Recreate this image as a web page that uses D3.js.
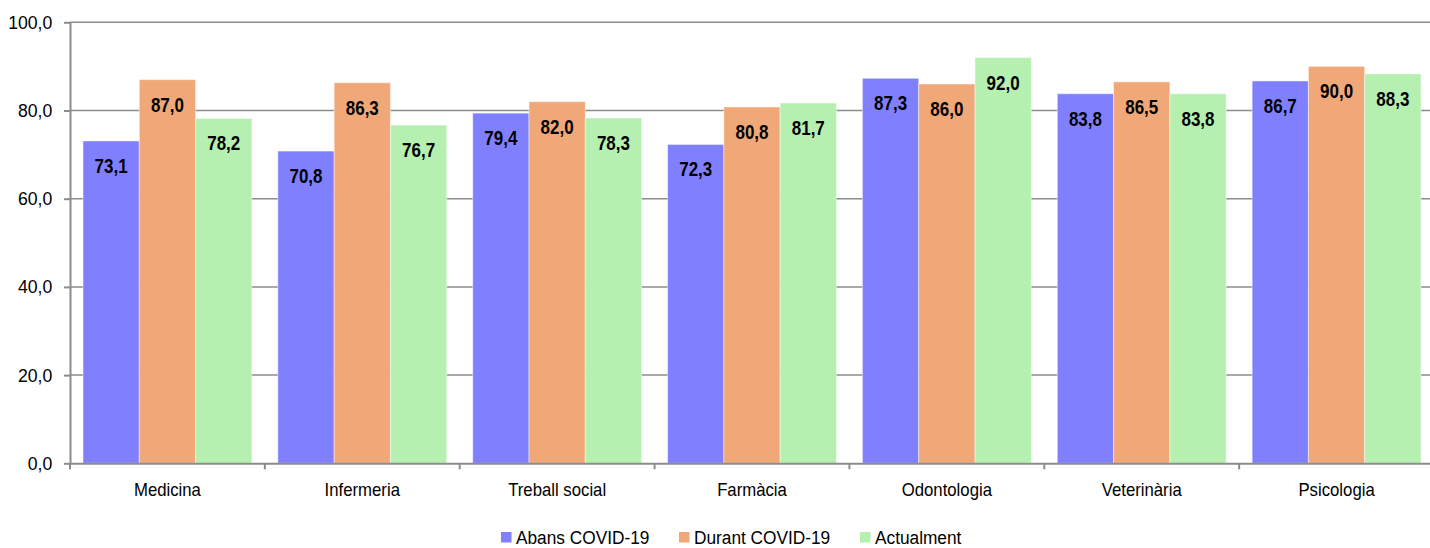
<!DOCTYPE html>
<meta charset="utf-8">
<style>
  body { margin: 0; background: #fff; }
  svg text { font-family: "Liberation Sans Narrow", "Arial Narrow", "Liberation Sans", sans-serif; fill: #000; }
  .grid line { stroke: #8c8c8c; stroke-width: 1.5px; }
  .axis path, .axis line { stroke: #8c8c8c; stroke-width: 2px; }
  .val { font-weight: bold; font-size: 20px; }
</style>
<body>
<svg id="chart" width="1430" height="548"></svg>
<script src="https://d3js.org/d3.v7.min.js"></script>
<script>
  // data
  var categories = ["Medicina", "Infermeria", "Treball social", "Farmàcia", "Odontologia", "Veterinària", "Psicologia"];
  var seriesNames = ["Abans COVID-19", "Durant COVID-19", "Actualment"];
  var abans   = [73.1, 70.8, 79.4, 72.3, 87.3, 83.8, 86.7];
  var durant  = [87.0, 86.3, 82.0, 80.8, 86.0, 86.5, 90.0];
  var actual  = [78.2, 76.7, 78.3, 81.7, 92.0, 83.8, 88.3];
  var yTicks  = [0, 20, 40, 60, 80, 100];

  var colors = ["#8080ff", "#f0a878", "#b6f0b0"];
  var series = [abans, durant, actual];

  var margin = {left: 70},
      plotRight = 1434;

  var svg = d3.select('#chart');

  var x0 = d3.scaleBand()
      .domain(categories)
      .range([margin.left, plotRight]);

  var pad = 13;
  var x1 = d3.scaleBand()
      .domain(d3.range(series.length))
      .range([pad, x0.bandwidth() - pad]);

  var y = d3.scaleLinear()
      .domain([0, 100])
      .range([463.3, 22.3]);

  var fmt = function(v){ return d3.format('.1f')(v).replace('.', ','); };

  // gridlines
  svg.append('g')
    .attr('class', 'grid')
    .selectAll('line')
    .data(yTicks.filter(function(d){ return d > 0; }))
    .enter().append('line')
      .attr('x1', margin.left)
      .attr('x2', 1430)
      .attr('y1', function(d){ return y(d); })
      .attr('y2', function(d){ return y(d); });

  // bars
  var groups = svg.append('g').selectAll('g')
    .data(categories)
    .enter().append('g')
      .attr('transform', function(d){ return 'translate(' + x0(d) + ',0)'; });

  function cells(d, i){ return series.map(function(s, k){ return {k: k, v: s[i]}; }); }

  groups.selectAll('rect')
    .data(cells)
    .enter().append('rect')
      .attr('x', function(d){ return x1(d.k); })
      .attr('width', x1.bandwidth())
      .attr('y', function(d){ return y(d.v); })
      .attr('height', function(d){ return y(0) - y(d.v); })
      .attr('fill', function(d){ return colors[d.k]; })
      .attr('stroke', 'rgba(255,255,255,0.45)')
      .attr('stroke-width', 1);

  // value labels, squeezed a bit to look like a narrow font
  groups.selectAll('text')
    .data(cells)
    .enter().append('text')
      .attr('class', 'val')
      .attr('text-anchor', 'middle')
      .attr('transform', function(d){
        return 'translate(' + (x1(d.k) + x1.bandwidth() / 2) + ',' + (y(d.v) + 32) + ') scale(0.85,1)';
      })
      .text(function(d){ return fmt(d.v); });

  // y axis
  var yAxis = svg.append('g')
    .attr('class', 'axis')
    .attr('transform', 'translate(' + margin.left + ',0)')
    .call(d3.axisLeft(y).tickValues(yTicks).tickSize(6).tickSizeOuter(0).tickPadding(13).tickFormat(fmt));
  yAxis.selectAll('text')
    .style('font-size', '19px')
    .attr('transform', 'scale(0.93,1)');

  // x axis
  var xAxis = svg.append('g')
    .attr('class', 'axis')
    .attr('transform', 'translate(0,' + y(0) + ')')
    .call(d3.axisBottom(x0).tickSize(0).tickPadding(20));
  xAxis.selectAll('text')
    .style('font-size', '18px')
    .attr('transform', 'scale(0.93,1)');
  xAxis.selectAll('.sep')
    .data(d3.range(categories.length + 1))
    .enter().append('line')
      .attr('class', 'sep')
      .attr('x1', function(i){ return margin.left + i * x0.step(); })
      .attr('x2', function(i){ return margin.left + i * x0.step(); })
      .attr('y1', 0)
      .attr('y2', 6);

  // legend
  var legendX = [501, 679, 860];
  var legend = svg.append('g').selectAll('g')
    .data(seriesNames)
    .enter().append('g')
      .attr('transform', function(d, i){ return 'translate(' + legendX[i] + ',532)'; });
  legend.append('rect')
    .attr('width', 10.5)
    .attr('height', 10.5)
    .attr('fill', function(d, i){ return colors[i]; });
  legend.append('text')
    .attr('transform', 'translate(15,12) scale(0.96,1)')
    .style('font-size', '18px')
    .text(function(d){ return d; });
</script>
</body>
